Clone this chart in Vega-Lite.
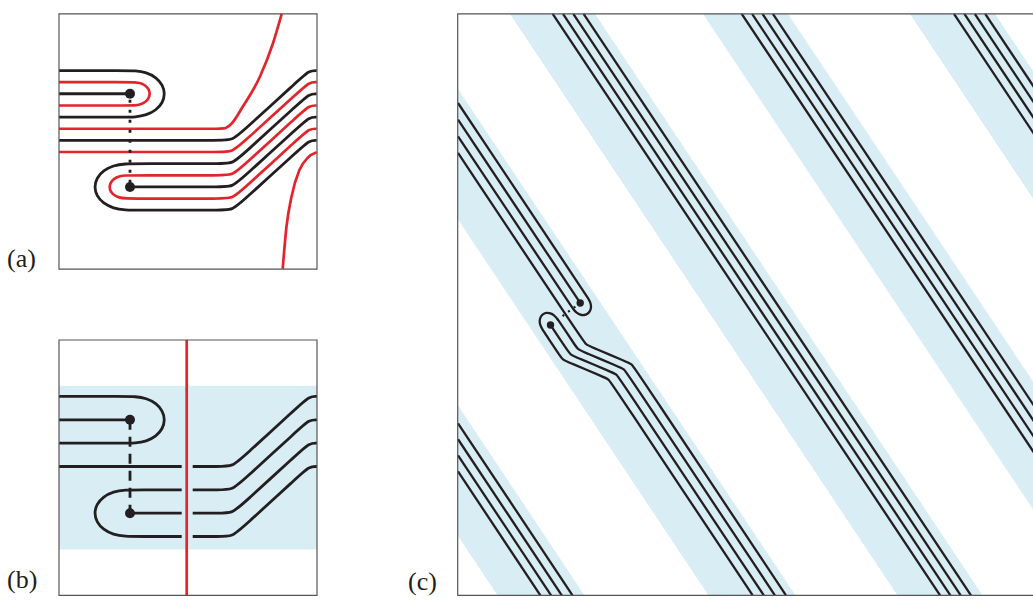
{
"$schema":"https://vega.github.io/schema/vega-lite/v6.json",
"width":1033,"height":601,
"autosize":{"type":"fit","contains":"padding"},
"padding":0,
"background":"white",
"config":{"view":{"stroke":null}},
"encoding":{
"x":{"field":"x","type":"quantitative","scale":{"domain":[0,1033],"nice":false,"zero":false},"axis":null},
"y":{"field":"y","type":"quantitative","scale":{"domain":[0,601],"nice":false,"zero":false,"reverse":true},"axis":null}
},
"datasets":{
"bands":[
{"b":"E","x":458,"y":408.1,"y2":539.5},{"b":"E","x":497.4,"y":467.6,"y2":599.3},{"b":"E","x":584.4,"y":599.3,"y2":599.3},
{"b":"D","x":458,"y":89.5,"y2":220.9},{"b":"D","x":708.4,"y":467.6,"y2":599.3},{"b":"D","x":795.4,"y":599.3,"y2":599.3},
{"b":"A","x":510,"y":14,"y2":14},{"b":"A","x":595,"y":14,"y2":142.4},{"b":"A","x":897.4,"y":470.6,"y2":599.3},{"b":"A","x":982.4,"y":599.3,"y2":599.3},
{"b":"B","x":703,"y":14,"y2":14},{"b":"B","x":788,"y":14,"y2":142.4},{"b":"B","x":1090.4,"y":470.6,"y2":599.3},{"b":"B","x":1175.4,"y":599.3,"y2":599.3},
{"b":"C","x":910,"y":14,"y2":14},{"b":"C","x":995,"y":14,"y2":142.4},{"b":"C","x":1297.4,"y":470.6,"y2":599.3},{"b":"C","x":1382.4,"y":599.3,"y2":599.3}
],
"L":[
{"id":"a1","k":"ab","i":0,"x":59,"y":71.0},{"id":"a1","k":"ab","i":1,"x":125,"y":71.0},{"id":"a1","k":"ab","i":2,"x":135,"y":71.0},{"id":"a1","k":"ab","i":3,"x":146.5,"y":72.8},{"id":"a1","k":"ab","i":4,"x":156.2,"y":77.9},{"id":"a1","k":"ab","i":5,"x":162.7,"y":85.4},{"id":"a1","k":"ab","i":6,"x":165,"y":94.4},{"id":"a1","k":"ab","i":7,"x":162.7,"y":103.4},{"id":"a1","k":"ab","i":8,"x":156.2,"y":110.9},{"id":"a1","k":"ab","i":9,"x":146.5,"y":116.0},{"id":"a1","k":"ab","i":10,"x":135,"y":117.9},{"id":"a1","k":"ab","i":11,"x":125,"y":117.9},{"id":"a1","k":"ab","i":12,"x":59,"y":117.9},
{"id":"a2","k":"ar","i":0,"x":59,"y":82.7},{"id":"a2","k":"ar","i":1,"x":125,"y":82.7},{"id":"a2","k":"ar","i":2,"x":135,"y":82.7},{"id":"a2","k":"ar","i":3,"x":140.7,"y":83.6},{"id":"a2","k":"ar","i":4,"x":145.6,"y":86.1},{"id":"a2","k":"ar","i":5,"x":148.9,"y":89.9},{"id":"a2","k":"ar","i":6,"x":150,"y":94.4},{"id":"a2","k":"ar","i":7,"x":148.9,"y":98.9},{"id":"a2","k":"ar","i":8,"x":145.6,"y":102.7},{"id":"a2","k":"ar","i":9,"x":140.7,"y":105.2},{"id":"a2","k":"ar","i":10,"x":135,"y":106.2},{"id":"a2","k":"ar","i":11,"x":125,"y":106.2},{"id":"a2","k":"ar","i":12,"x":59,"y":106.2},
{"id":"a3","k":"ab","i":0,"x":59,"y":94.4},{"id":"a3","k":"ab","i":1,"x":130,"y":94.4},
{"id":"a4","k":"am","i":0,"x":59,"y":129.6},{"id":"a4","k":"am","i":1,"x":216,"y":129.6},{"id":"a4","k":"am","i":2,"x":224,"y":129.2},{"id":"a4","k":"am","i":3,"x":231.5,"y":124.5},{"id":"a4","k":"am","i":4,"x":243,"y":107},{"id":"a4","k":"am","i":5,"x":260,"y":77},{"id":"a4","k":"am","i":6,"x":273,"y":43.5},{"id":"a4","k":"am","i":7,"x":281.7,"y":14},
{"id":"a5","k":"ab","i":0,"x":59,"y":141.3},{"id":"a5","k":"ab","i":1,"x":218.7,"y":141.3},{"id":"a5","k":"ab","i":2,"x":232.7,"y":141.3},{"id":"a5","k":"ab","i":3,"x":243.0,"y":131.8},{"id":"a5","k":"ab","i":4,"x":299.0,"y":80.5},{"id":"a5","k":"ab","i":5,"x":309.3,"y":71.0},{"id":"a5","k":"ab","i":6,"x":316.7,"y":71.0},
{"id":"a6","k":"ar","i":0,"x":59,"y":153.0},{"id":"a6","k":"ar","i":1,"x":218.7,"y":153.0},{"id":"a6","k":"ar","i":2,"x":232.7,"y":153.0},{"id":"a6","k":"ar","i":3,"x":243.0,"y":143.5},{"id":"a6","k":"ar","i":4,"x":299.0,"y":92.2},{"id":"a6","k":"ar","i":5,"x":309.3,"y":82.7},{"id":"a6","k":"ar","i":6,"x":316.7,"y":82.7},
{"id":"a7","k":"ab","i":0,"x":316.7,"y":94.5},{"id":"a7","k":"ab","i":1,"x":309.3,"y":94.5},{"id":"a7","k":"ab","i":2,"x":299.0,"y":104.0},{"id":"a7","k":"ab","i":3,"x":243.0,"y":155.3},{"id":"a7","k":"ab","i":4,"x":232.7,"y":164.8},{"id":"a7","k":"ab","i":5,"x":218.7,"y":164.8},{"id":"a7","k":"ab","i":6,"x":140,"y":164.8},{"id":"a7","k":"ab","i":7,"x":125,"y":164.8},{"id":"a7","k":"ab","i":8,"x":113.25,"y":166.6},{"id":"a7","k":"ab","i":9,"x":103.3,"y":171.65},{"id":"a7","k":"ab","i":10,"x":96.6,"y":179.2},{"id":"a7","k":"ab","i":11,"x":94.3,"y":188.2},{"id":"a7","k":"ab","i":12,"x":96.6,"y":197.2},{"id":"a7","k":"ab","i":13,"x":103.3,"y":204.75},{"id":"a7","k":"ab","i":14,"x":113.25,"y":209.8},{"id":"a7","k":"ab","i":15,"x":125,"y":211.6},{"id":"a7","k":"ab","i":16,"x":140,"y":211.6},{"id":"a7","k":"ab","i":17,"x":218.7,"y":211.6},{"id":"a7","k":"ab","i":18,"x":232.7,"y":211.6},{"id":"a7","k":"ab","i":19,"x":243.0,"y":202.1},{"id":"a7","k":"ab","i":20,"x":299.0,"y":150.8},{"id":"a7","k":"ab","i":21,"x":309.3,"y":141.3},{"id":"a7","k":"ab","i":22,"x":316.7,"y":141.3},
{"id":"a8","k":"ar","i":0,"x":316.7,"y":106.2},{"id":"a8","k":"ar","i":1,"x":309.3,"y":106.2},{"id":"a8","k":"ar","i":2,"x":299.0,"y":115.7},{"id":"a8","k":"ar","i":3,"x":243.0,"y":167.0},{"id":"a8","k":"ar","i":4,"x":232.7,"y":176.5},{"id":"a8","k":"ar","i":5,"x":218.7,"y":176.5},{"id":"a8","k":"ar","i":6,"x":140,"y":176.5},{"id":"a8","k":"ar","i":7,"x":125,"y":176.5},{"id":"a8","k":"ar","i":8,"x":119.0,"y":177.4},{"id":"a8","k":"ar","i":9,"x":113.9,"y":179.9},{"id":"a8","k":"ar","i":10,"x":110.5,"y":183.7},{"id":"a8","k":"ar","i":11,"x":109.3,"y":188.2},{"id":"a8","k":"ar","i":12,"x":110.5,"y":192.7},{"id":"a8","k":"ar","i":13,"x":113.9,"y":196.5},{"id":"a8","k":"ar","i":14,"x":119.0,"y":199.0},{"id":"a8","k":"ar","i":15,"x":125,"y":199.9},{"id":"a8","k":"ar","i":16,"x":140,"y":199.9},{"id":"a8","k":"ar","i":17,"x":218.7,"y":199.9},{"id":"a8","k":"ar","i":18,"x":232.7,"y":199.9},{"id":"a8","k":"ar","i":19,"x":243.0,"y":190.4},{"id":"a8","k":"ar","i":20,"x":299.0,"y":139.1},{"id":"a8","k":"ar","i":21,"x":309.3,"y":129.6},{"id":"a8","k":"ar","i":22,"x":316.7,"y":129.6},
{"id":"a9","k":"ab","i":0,"x":130,"y":188.2},{"id":"a9","k":"ab","i":1,"x":218.7,"y":188.2},{"id":"a9","k":"ab","i":2,"x":232.7,"y":188.2},{"id":"a9","k":"ab","i":3,"x":243.0,"y":178.7},{"id":"a9","k":"ab","i":4,"x":299.0,"y":127.4},{"id":"a9","k":"ab","i":5,"x":309.3,"y":117.9},{"id":"a9","k":"ab","i":6,"x":316.7,"y":117.9},
{"id":"a10","k":"am","i":0,"x":282.7,"y":270.7},{"id":"a10","k":"am","i":1,"x":286.5,"y":228},{"id":"a10","k":"am","i":2,"x":291.5,"y":198},{"id":"a10","k":"am","i":3,"x":299.5,"y":171},{"id":"a10","k":"am","i":4,"x":308,"y":158.5},{"id":"a10","k":"am","i":5,"x":316.7,"y":153.3},
{"id":"b1","k":"ab","i":0,"x":59,"y":399.1},{"id":"b1","k":"ab","i":1,"x":125,"y":399.1},{"id":"b1","k":"ab","i":2,"x":135,"y":399.1},{"id":"b1","k":"ab","i":3,"x":146.5,"y":400.9},{"id":"b1","k":"ab","i":4,"x":156.2,"y":406.0},{"id":"b1","k":"ab","i":5,"x":162.7,"y":413.6},{"id":"b1","k":"ab","i":6,"x":165,"y":422.6},{"id":"b1","k":"ab","i":7,"x":162.7,"y":431.6},{"id":"b1","k":"ab","i":8,"x":156.2,"y":439.2},{"id":"b1","k":"ab","i":9,"x":146.5,"y":444.3},{"id":"b1","k":"ab","i":10,"x":135,"y":446.1},{"id":"b1","k":"ab","i":11,"x":125,"y":446.1},{"id":"b1","k":"ab","i":12,"x":59,"y":446.1},
{"id":"b2","k":"ab","i":0,"x":59,"y":422.6},{"id":"b2","k":"ab","i":1,"x":130,"y":422.6},
{"id":"b3","k":"ab","i":0,"x":59,"y":469.6},{"id":"b3","k":"ab","i":1,"x":181.7,"y":469.6},
{"id":"b4","k":"ab","i":0,"x":192.7,"y":469.6},{"id":"b4","k":"ab","i":1,"x":218.7,"y":469.6},{"id":"b4","k":"ab","i":2,"x":232.7,"y":469.6},{"id":"b4","k":"ab","i":3,"x":243.0,"y":460.1},{"id":"b4","k":"ab","i":4,"x":299.0,"y":408.6},{"id":"b4","k":"ab","i":5,"x":309.3,"y":399.1},{"id":"b4","k":"ab","i":6,"x":317,"y":399.1},
{"id":"b5","k":"ab","i":0,"x":181.7,"y":493.1},{"id":"b5","k":"ab","i":1,"x":140,"y":493.1},{"id":"b5","k":"ab","i":2,"x":125,"y":493.1},{"id":"b5","k":"ab","i":3,"x":113.25,"y":494.9},{"id":"b5","k":"ab","i":4,"x":103.3,"y":500.0},{"id":"b5","k":"ab","i":5,"x":96.6,"y":507.6},{"id":"b5","k":"ab","i":6,"x":94.3,"y":516.6},{"id":"b5","k":"ab","i":7,"x":96.6,"y":525.6},{"id":"b5","k":"ab","i":8,"x":103.3,"y":533.2},{"id":"b5","k":"ab","i":9,"x":113.25,"y":538.3},{"id":"b5","k":"ab","i":10,"x":125,"y":540.1},{"id":"b5","k":"ab","i":11,"x":140,"y":540.1},{"id":"b5","k":"ab","i":12,"x":181.7,"y":540.1},
{"id":"b6","k":"ab","i":0,"x":130,"y":516.6},{"id":"b6","k":"ab","i":1,"x":181.7,"y":516.6},
{"id":"b7","k":"ab","i":0,"x":192.7,"y":493.1},{"id":"b7","k":"ab","i":1,"x":218.7,"y":493.1},{"id":"b7","k":"ab","i":2,"x":232.7,"y":493.1},{"id":"b7","k":"ab","i":3,"x":243.0,"y":483.6},{"id":"b7","k":"ab","i":4,"x":299.0,"y":432.1},{"id":"b7","k":"ab","i":5,"x":309.3,"y":422.6},{"id":"b7","k":"ab","i":6,"x":317,"y":422.6},
{"id":"b8","k":"ab","i":0,"x":192.7,"y":516.6},{"id":"b8","k":"ab","i":1,"x":218.7,"y":516.6},{"id":"b8","k":"ab","i":2,"x":232.7,"y":516.6},{"id":"b8","k":"ab","i":3,"x":243.0,"y":507.1},{"id":"b8","k":"ab","i":4,"x":299.0,"y":455.6},{"id":"b8","k":"ab","i":5,"x":309.3,"y":446.1},{"id":"b8","k":"ab","i":6,"x":317,"y":446.1},
{"id":"b9","k":"ab","i":0,"x":192.7,"y":540.1},{"id":"b9","k":"ab","i":1,"x":218.7,"y":540.1},{"id":"b9","k":"ab","i":2,"x":232.7,"y":540.1},{"id":"b9","k":"ab","i":3,"x":243.0,"y":530.6},{"id":"b9","k":"ab","i":4,"x":299.0,"y":479.1},{"id":"b9","k":"ab","i":5,"x":309.3,"y":469.6},{"id":"b9","k":"ab","i":6,"x":317,"y":469.6},
{"id":"b10","k":"ar","i":0,"x":186.7,"y":342.3},{"id":"b10","k":"ar","i":1,"x":186.7,"y":599.3},
{"id":"cA1","k":"cb","i":0,"x":552.7,"y":14},{"id":"cA1","k":"cb","i":1,"x":940.1,"y":599.3},
{"id":"cA2","k":"cb","i":0,"x":563.0,"y":14},{"id":"cA2","k":"cb","i":1,"x":950.4,"y":599.3},
{"id":"cA3","k":"cb","i":0,"x":573.3,"y":14},{"id":"cA3","k":"cb","i":1,"x":960.7,"y":599.3},
{"id":"cA4","k":"cb","i":0,"x":583.6,"y":14},{"id":"cA4","k":"cb","i":1,"x":971.0,"y":599.3},
{"id":"cB1","k":"cb","i":0,"x":741.7,"y":14},{"id":"cB1","k":"cb","i":1,"x":1129.1,"y":599.3},
{"id":"cB2","k":"cb","i":0,"x":752.1,"y":14},{"id":"cB2","k":"cb","i":1,"x":1139.5,"y":599.3},
{"id":"cB3","k":"cb","i":0,"x":762.5,"y":14},{"id":"cB3","k":"cb","i":1,"x":1149.9,"y":599.3},
{"id":"cB4","k":"cb","i":0,"x":772.9,"y":14},{"id":"cB4","k":"cb","i":1,"x":1160.3,"y":599.3},
{"id":"cC1","k":"cb","i":0,"x":954.0,"y":14},{"id":"cC1","k":"cb","i":1,"x":1341.4,"y":599.3},
{"id":"cC2","k":"cb","i":0,"x":964.4,"y":14},{"id":"cC2","k":"cb","i":1,"x":1351.8,"y":599.3},
{"id":"cC3","k":"cb","i":0,"x":974.8,"y":14},{"id":"cC3","k":"cb","i":1,"x":1362.2,"y":599.3},
{"id":"cC4","k":"cb","i":0,"x":985.2,"y":14},{"id":"cC4","k":"cb","i":1,"x":1372.6,"y":599.3},
{"id":"cE1","k":"cb","i":0,"x":458,"y":474.6},{"id":"cE1","k":"cb","i":1,"x":540.4,"y":599.3},
{"id":"cE2","k":"cb","i":0,"x":458,"y":458.4},{"id":"cE2","k":"cb","i":1,"x":551.1,"y":599.3},
{"id":"cE3","k":"cb","i":0,"x":458,"y":442.2},{"id":"cE3","k":"cb","i":1,"x":561.8,"y":599.3},
{"id":"cE4","k":"cb","i":0,"x":458,"y":426.1},{"id":"cE4","k":"cb","i":1,"x":572.5,"y":599.3},
{"id":"cUH","k":"cb","i":0,"x":458.0,"y":103.7},{"id":"cUH","k":"cb","i":1,"x":582.4,"y":291.6},{"id":"cUH","k":"cb","i":2,"x":588.9,"y":301.4},{"id":"cUH","k":"cb","i":3,"x":590.8,"y":305.5},{"id":"cUH","k":"cb","i":4,"x":591.2,"y":309.7},{"id":"cUH","k":"cb","i":5,"x":590.0,"y":313.4},{"id":"cUH","k":"cb","i":6,"x":587.6,"y":316.1},{"id":"cUH","k":"cb","i":7,"x":584.1,"y":317.4},{"id":"cUH","k":"cb","i":8,"x":580.3,"y":316.9},{"id":"cUH","k":"cb","i":9,"x":576.5,"y":314.9},{"id":"cUH","k":"cb","i":10,"x":573.5,"y":311.7},{"id":"cUH","k":"cb","i":11,"x":567.0,"y":301.8},{"id":"cUH","k":"cb","i":12,"x":458.0,"y":137.2},
{"id":"cUM","k":"cb","i":0,"x":458.0,"y":120.5},{"id":"cUM","k":"cb","i":1,"x":580.2,"y":305},
{"id":"cPL","k":"cb","i":0,"x":458.0,"y":154.0},{"id":"cPL","k":"cb","i":1,"x":582.4,"y":341.9},{"id":"cPL","k":"cb","i":2,"x":585.8,"y":346.9},{"id":"cPL","k":"cb","i":3,"x":591.3,"y":349.2},{"id":"cPL","k":"cb","i":4,"x":626.6,"y":364.2},{"id":"cPL","k":"cb","i":5,"x":632.1,"y":366.6},{"id":"cPL","k":"cb","i":6,"x":635.4,"y":371.6},{"id":"cPL","k":"cb","i":7,"x":786.0,"y":599.3},
{"id":"cLH","k":"cb","i":0,"x":774.9,"y":599.3},{"id":"cLH","k":"cb","i":1,"x":627.7,"y":376.7},{"id":"cLH","k":"cb","i":2,"x":624.4,"y":371.7},{"id":"cLH","k":"cb","i":3,"x":618.9,"y":369.3},{"id":"cLH","k":"cb","i":4,"x":583.6,"y":354.3},{"id":"cLH","k":"cb","i":5,"x":578.1,"y":352.0},{"id":"cLH","k":"cb","i":6,"x":574.7,"y":347.0},{"id":"cLH","k":"cb","i":7,"x":562.6,"y":328.7},{"id":"cLH","k":"cb","i":8,"x":557.1,"y":320.4},{"id":"cLH","k":"cb","i":9,"x":554.1,"y":317.2},{"id":"cLH","k":"cb","i":10,"x":550.4,"y":315.2},{"id":"cLH","k":"cb","i":11,"x":546.5,"y":314.7},{"id":"cLH","k":"cb","i":12,"x":543.1,"y":316.0},{"id":"cLH","k":"cb","i":13,"x":540.6,"y":318.7},{"id":"cLH","k":"cb","i":14,"x":539.5,"y":322.4},{"id":"cLH","k":"cb","i":15,"x":539.9,"y":326.6},{"id":"cLH","k":"cb","i":16,"x":541.7,"y":330.7},{"id":"cLH","k":"cb","i":17,"x":547.2,"y":338.9},{"id":"cLH","k":"cb","i":18,"x":559.3,"y":357.2},{"id":"cLH","k":"cb","i":19,"x":562.7,"y":362.2},{"id":"cLH","k":"cb","i":20,"x":568.2,"y":364.5},{"id":"cLH","k":"cb","i":21,"x":603.5,"y":379.5},{"id":"cLH","k":"cb","i":22,"x":609.0,"y":381.9},{"id":"cLH","k":"cb","i":23,"x":612.3,"y":386.9},{"id":"cLH","k":"cb","i":24,"x":752.7,"y":599.3},
{"id":"cLM","k":"cb","i":0,"x":550.5,"y":327.1},{"id":"cLM","k":"cb","i":1,"x":567.0,"y":352.1},{"id":"cLM","k":"cb","i":2,"x":570.4,"y":357.1},{"id":"cLM","k":"cb","i":3,"x":575.9,"y":359.4},{"id":"cLM","k":"cb","i":4,"x":611.2,"y":374.4},{"id":"cLM","k":"cb","i":5,"x":616.7,"y":376.8},{"id":"cLM","k":"cb","i":6,"x":620.0,"y":381.8},{"id":"cLM","k":"cb","i":7,"x":763.8,"y":599.3},
{"id":"ka","k":"ka","i":0,"x":130,"y":94.4},{"id":"ka","k":"ka","i":1,"x":130,"y":188.2},
{"id":"kb","k":"kb","i":0,"x":130,"y":422.6},{"id":"kb","k":"kb","i":1,"x":130,"y":516.6},
{"id":"kc","k":"kc","i":0,"x":580.2,"y":305},{"id":"kc","k":"kc","i":1,"x":550.5,"y":327.1}
],
"dots":[
{"p":"a","x":130,"y":94.4},{"p":"a","x":130,"y":188.2},
{"p":"b","x":130,"y":422.6},{"p":"b","x":130,"y":516.6},
{"p":"c","x":580.2,"y":305},{"p":"c","x":550.5,"y":327.1}
],
"frames":[
{"f":"a","x":59,"x2":317,"y":14,"y2":271},
{"f":"b","x":59,"x2":317,"y":342.3,"y2":599.3},
{"f":"c","x":457.7,"x2":1100,"y":14,"y2":599.3}
],
"labels":[
{"t":"(a)","x":7,"y":269},
{"t":"(b)","x":7,"y":592},
{"t":"(c)","x":408,"y":594}
]
},
"layer":[
{"data":{"values":[{"x":59,"x2":317,"y":388.3,"y2":553.3}]},
 "mark":{"type":"rect","color":"#d9edf4"},
 "encoding":{"x2":{"field":"x2"},"y2":{"field":"y2"}}},
{"data":{"name":"bands"},
 "mark":{"type":"area","color":"#d9edf4","clip":true},
 "encoding":{"y2":{"field":"y2"},"detail":{"field":"b"}}},
{"data":{"name":"L"},"transform":[{"filter":"datum.k == 'ar'"}],
 "mark":{"type":"line","interpolate":"basis","color":"#e3242b","strokeWidth":2.7,"strokeCap":"butt"},
 "encoding":{"detail":{"field":"id"},"order":{"field":"i","type":"quantitative"}}},
{"data":{"name":"L"},"transform":[{"filter":"datum.k == 'am'"}],
 "mark":{"type":"line","interpolate":"monotone","color":"#e3242b","strokeWidth":2.7,"strokeCap":"butt"},
 "encoding":{"detail":{"field":"id"},"order":{"field":"i","type":"quantitative"}}},
{"data":{"name":"L"},"transform":[{"filter":"datum.k == 'ab'"}],
 "mark":{"type":"line","interpolate":"basis","color":"#231f20","strokeWidth":2.8,"strokeCap":"butt"},
 "encoding":{"detail":{"field":"id"},"order":{"field":"i","type":"quantitative"}}},
{"data":{"name":"L"},"transform":[{"filter":"datum.k == 'cb'"}],
 "mark":{"type":"line","interpolate":"basis","color":"#231f20","strokeWidth":2.3,"strokeCap":"butt","clip":true},
 "encoding":{"detail":{"field":"id"},"order":{"field":"i","type":"quantitative"}}},
{"data":{"name":"L"},"transform":[{"filter":"datum.k == 'ka'"}],
 "mark":{"type":"line","color":"#231f20","strokeWidth":2.8,"strokeDash":[3,7],"strokeDashOffset":-6},
 "encoding":{"order":{"field":"i","type":"quantitative"}}},
{"data":{"name":"L"},"transform":[{"filter":"datum.k == 'kb'"}],
 "mark":{"type":"line","color":"#231f20","strokeWidth":2.8,"strokeDash":[10,7]},
 "encoding":{"order":{"field":"i","type":"quantitative"}}},
{"data":{"name":"L"},"transform":[{"filter":"datum.k == 'kc'"}],
 "mark":{"type":"line","color":"#231f20","strokeWidth":2.2,"strokeDash":[2,5],"strokeDashOffset":-6},
 "encoding":{"order":{"field":"i","type":"quantitative"}}},
{"data":{"name":"dots"},"transform":[{"filter":"datum.p != 'c'"}],
 "mark":{"type":"point","filled":true,"color":"#231f20","size":100,"opacity":1}},
{"data":{"name":"dots"},"transform":[{"filter":"datum.p == 'c'"}],
 "mark":{"type":"point","filled":true,"color":"#231f20","size":55,"opacity":1}},
{"data":{"name":"frames"},
 "mark":{"type":"rect","fill":null,"stroke":"#555555","strokeWidth":1.2,"clip":true},
 "encoding":{"x2":{"field":"x2"},"y2":{"field":"y2"},"detail":{"field":"f"}}},
{"data":{"name":"labels"},
 "mark":{"type":"text","font":"Liberation Serif","fontSize":26,"align":"left","baseline":"alphabetic","color":"#231f20"},
 "encoding":{"text":{"field":"t"}}}
]
}
